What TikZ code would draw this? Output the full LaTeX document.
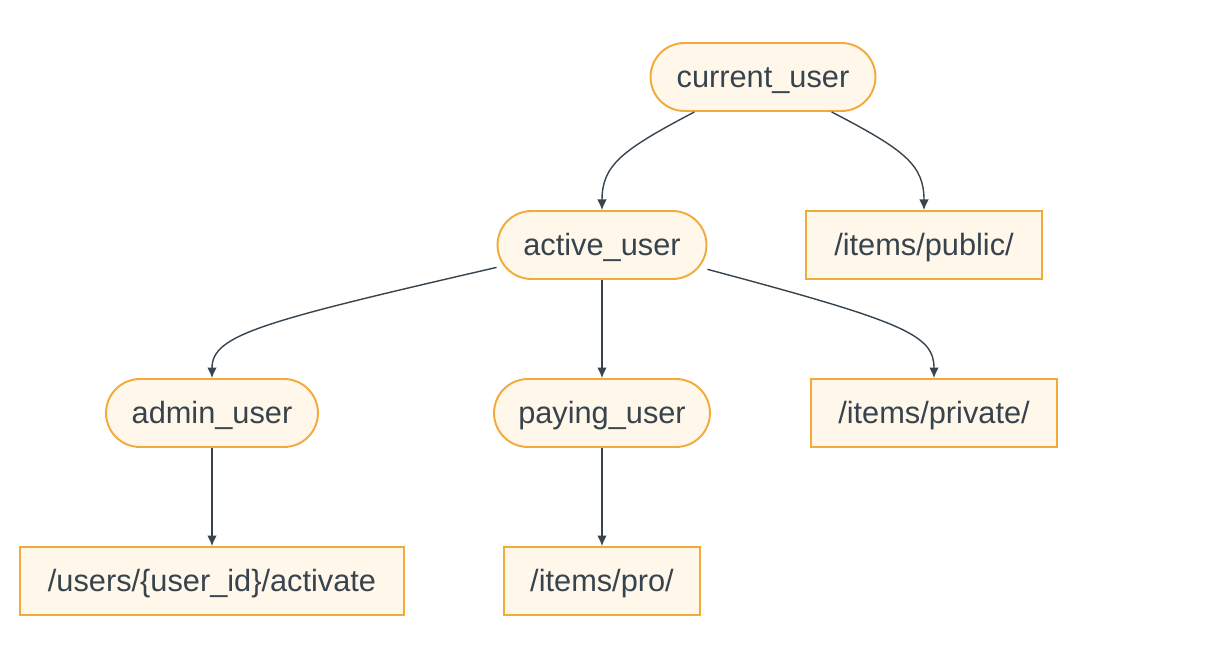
\documentclass[tikz,border=0pt]{standalone}
\usepackage{fontspec}
\setmainfont{Liberation Sans}
\usetikzlibrary{arrows.meta}
\definecolor{nodefill}{HTML}{FFF7EA}
\definecolor{nodeline}{HTML}{F2AA3A}
\definecolor{inktext}{HTML}{37444E}
\tikzset{
    base/.style={draw=nodeline, fill=nodefill, line width=1.1pt, text=inktext,
        font=\fontsize{17.5}{20}\selectfont, minimum height=1.36cm, inner sep=0pt,
        text height=13pt, text depth=0.6pt},
    dep/.style={base, rounded corners=0.68cm},
    route/.style={base},
    link/.style={draw=inktext, line width=0.8pt, -{Latex[length=6pt,width=5.5pt]}}
}
\begin{document}
\begin{tikzpicture}[x=0.02cm, y=-0.02cm]
        \useasboundingbox (0,0) rectangle (1230,662);
        %dependencies
        \node [dep, minimum width=4.5cm] (cur) at (763,77) {current\_user};
        \node [dep, minimum width=4.18cm] (active) at (602,245) {active\_user};
        \node [dep, minimum width=4.24cm] (admin) at (212,413) {admin\_user};
        \node [dep, minimum width=4.32cm] (paying) at (602,413) {paying\_user};

        %routes
        \node [route, minimum width=4.72cm] (public) at (924,245) {/items/public/};
        \node [route, minimum width=4.92cm] (private) at (934,413) {/items/private/};
        \node [route, minimum width=7.68cm] (activate) at (212,581) {/users/\{user\_id\}/activate};
        \node [route, minimum width=3.92cm] (pro) at (602,581) {/items/pro/};

        %from current_user
        \draw [link] (cur.207) .. controls (622,150) and (602,165) .. (active.north);
        \draw [link] (cur.333) .. controls (905,150) and (924,165) .. (public.north);

        %from active_user
        \draw [link] (active.192) .. controls (260,322) and (212,335) .. (admin.north);
        \draw [link] (active.south) -- (paying.north);
        \draw [link] (active.347) .. controls (905,322) and (934,335) .. (private.north);

        %last level
        \draw [link] (admin.south) -- (activate.north);
        \draw [link] (paying.south) -- (pro.north);
    \end{tikzpicture}
\end{document}
